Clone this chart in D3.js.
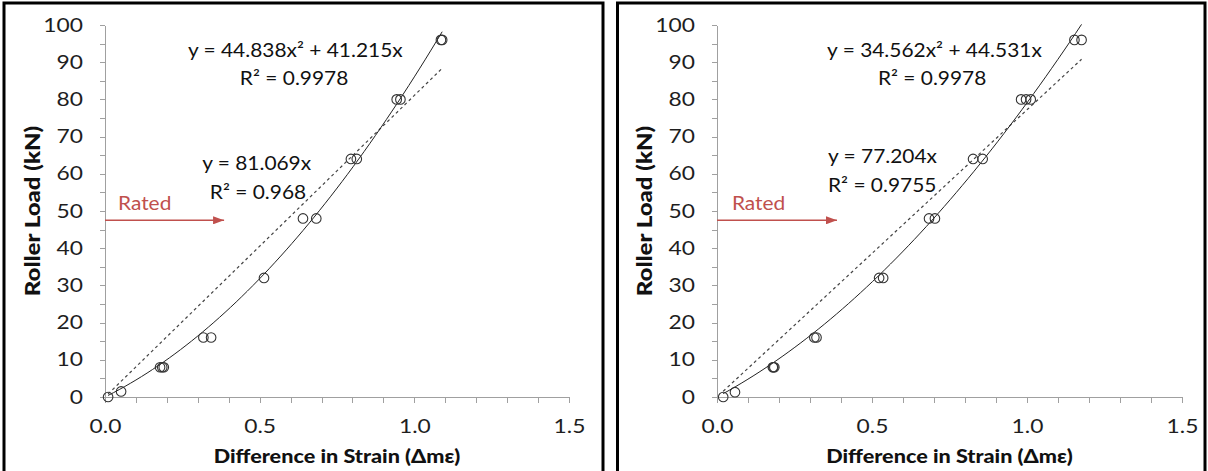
<!DOCTYPE html>
<html>
<head>
<meta charset="utf-8">
<script src="https://cdn.jsdelivr.net/npm/d3@7"></script>
<style>
  body { margin: 0; background: #fff; }
  svg { display: block; }
  .axis path, .axis line { stroke: #a0a0a0; shape-rendering: crispEdges; }
  .axis text { font-family: Lato, sans-serif; font-size: 19px; fill: #1e1e1e; }
  .title { font-family: Lato, sans-serif; font-size: 18px; font-weight: 900; fill: #111; }
  .ytitle { font-size: 20px; }
  .note { font-family: Lato, sans-serif; font-size: 19px; fill: #111; }
  .rated { font-family: Lato, sans-serif; font-size: 19px; fill: #c0504d; }
</style>
</head>
<body>
<svg id="chart" width="1208" height="471"></svg>
<script>
// left panel: measured points + Excel trendlines
const strainA = [0.01, 0.052, 0.178, 0.185, 0.19, 0.318, 0.343, 0.514, 0.64, 0.683, 0.795, 0.814, 0.943, 0.955, 1.086, 1.09];
const loadA   = [0, 1.5, 8, 8, 8, 16, 16, 32, 48, 48, 64, 64, 80, 80, 96, 96];
const quadA = [44.838, 41.215];
const linA = 81.069;
const r2QuadA = "0.9978", r2LinA = "0.968";

// right panel
const strainB = [0.02, 0.058, 0.18, 0.182, 0.185, 0.314, 0.321, 0.523, 0.536, 0.684, 0.703, 0.826, 0.857, 0.981, 0.997, 1.012, 1.153, 1.176];
const loadB   = [0, 1.3, 8, 8, 8, 16, 16, 32, 32, 48, 48, 64, 64, 80, 80, 80, 96, 96];
const quadB = [34.562, 44.531];
const linB = 77.204;
const r2QuadB = "0.9978", r2LinB = "0.9755";

const ratedLoad = 47.5;
const yTicks = d3.range(0, 101, 5);
const xTicks = d3.range(0, 16).map(i => i / 10);
const xLabels = [0, 0.5, 1, 1.5];

const STRETCH = 1.2; // the source image is a bit wider than tall
const NOTE_STRETCH = 1.1;

const panels = [
  {frame: [4, 603], range: [105, 569], strain: strainA, load: loadA, quad: quadA, lin: linA, r2q: r2QuadA, r2l: r2LinA,
   quadAt: [0.268, 91.4], quadR2At: [0.436, 83.9], linAt: [0.314, 61.0], linR2At: [0.339, 53.2], ratedAt: [0.042, 50.3], arrowTo: 0.385},
  {frame: [617.5, 1205], range: [717, 1182], strain: strainB, load: loadB, quad: quadB, lin: linB, r2q: r2QuadB, r2l: r2LinB,
   quadAt: [0.355, 91.4], quadR2At: [0.519, 83.9], linAt: [0.358, 62.9], linR2At: [0.358, 55.1], ratedAt: [0.048, 50.3], arrowTo: 0.387}
];

const svg = d3.select("#chart");

svg.append("defs").append("marker")
  .attr("id", "arrow")
  .attr("markerUnits", "userSpaceOnUse")
  .attr("markerWidth", 11).attr("markerHeight", 8)
  .attr("refX", 11).attr("refY", 4)
  .attr("orient", "auto")
  .append("path")
  .attr("d", "M0,0L11,4L0,8Z")
  .attr("fill", "#c0504d");

const y = d3.scaleLinear().domain([0, 100]).range([397, 25]);

// turn x/y attrs into a transform so text can be widened like the source
function stretch(sel, k) {
  k = k || STRETCH;
  sel.each(function () {
    const t = d3.select(this);
    const tx = +t.attr("x") || 0, ty = +t.attr("y") || 0;
    t.attr("x", null).attr("y", null)
      .attr("transform", "translate(" + tx + "," + ty + ") scale(" + k + ",1)");
  });
}

function drawPanel(p) {
  const g = svg.append("g");
  const x = d3.scaleLinear().domain([0, 1.5]).range(p.range);

  // frame (bottom edge runs off the picture)
  g.append("rect")
    .attr("x", p.frame[0]).attr("y", 3)
    .attr("width", p.frame[1] - p.frame[0]).attr("height", 500)
    .attr("fill", "none").attr("stroke", "#000").attr("stroke-width", 3);

  const yAxis = d3.axisLeft(y)
    .tickValues(yTicks)
    .tickSize(5).tickSizeOuter(0).tickPadding(17)
    .tickFormat(d => d % 10 === 0 ? d : "");
  g.append("g").attr("class", "axis")
    .attr("transform", "translate(" + p.range[0] + ",0)")
    .call(yAxis)
    .selectAll("text").call(stretch);

  const xAxis = d3.axisBottom(x)
    .tickValues(xTicks)
    .tickSize(6).tickSizeOuter(0).tickPadding(17)
    .tickFormat(d => xLabels.some(v => Math.abs(v - d) < 1e-9) ? d3.format(".1f")(d) : "");
  g.append("g").attr("class", "axis")
    .attr("transform", "translate(0," + y(0) + ")")
    .call(xAxis)
    .selectAll("text").call(stretch);

  // axis titles
  const midX = (p.range[0] + p.range[1]) / 2;
  g.append("text").attr("class", "title")
    .attr("text-anchor", "middle")
    .attr("transform", "translate(" + midX + ",463) scale(" + STRETCH + ",1)")
    .text("Difference in Strain (\u0394m\u03b5)");
  g.append("text").attr("class", "title ytitle")
    .attr("text-anchor", "middle")
    .attr("transform", "translate(" + (p.range[0] - 65) + "," + y(50) + ") rotate(-90) scale(" + STRETCH + ",1)")
    .text("Roller Load (kN)");

  // trendlines over the range of the data
  const xs = d3.range(0, 61).map(i => d3.min(p.strain) + i / 60 * (d3.max(p.strain) - d3.min(p.strain)));
  const line = d3.line().x(d => x(d[0])).y(d => y(d[1]));
  g.append("path")
    .attr("d", line(xs.map(v => [v, p.lin * v])))
    .attr("fill", "none").attr("stroke", "#444").attr("stroke-width", 1.2)
    .attr("stroke-dasharray", "3,3");
  g.append("path")
    .attr("d", line(xs.map(v => [v, p.quad[0] * v * v + p.quad[1] * v])))
    .attr("fill", "none").attr("stroke", "#222").attr("stroke-width", 1);

  g.append("g").selectAll("circle")
    .data(p.strain.map((v, i) => [v, p.load[i]]))
    .join("circle")
    .attr("cx", d => x(d[0])).attr("cy", d => y(d[1]))
    .attr("r", 4.8)
    .attr("fill", "none").attr("stroke", "#333").attr("stroke-width", 1.1);

  // equations
  const note = (cls, at, txt) => g.append("text").attr("class", cls)
    .attr("x", x(at[0])).attr("y", y(at[1])).text(txt).call(stretch, NOTE_STRETCH);
  note("note", p.quadAt, "y = " + p.quad[0] + "x\u00b2 + " + p.quad[1] + "x");
  note("note", p.quadR2At, "R\u00b2 = " + p.r2q);
  note("note", p.linAt, "y = " + p.lin + "x");
  note("note", p.linR2At, "R\u00b2 = " + p.r2l);
  note("rated", p.ratedAt, "Rated");

  g.append("line")
    .attr("x1", x(0)).attr("x2", x(p.arrowTo))
    .attr("y1", y(ratedLoad)).attr("y2", y(ratedLoad))
    .attr("stroke", "#c0504d").attr("stroke-width", 1.5)
    .attr("marker-end", "url(#arrow)");
}

panels.forEach(drawPanel);
</script>
</body>
</html>
